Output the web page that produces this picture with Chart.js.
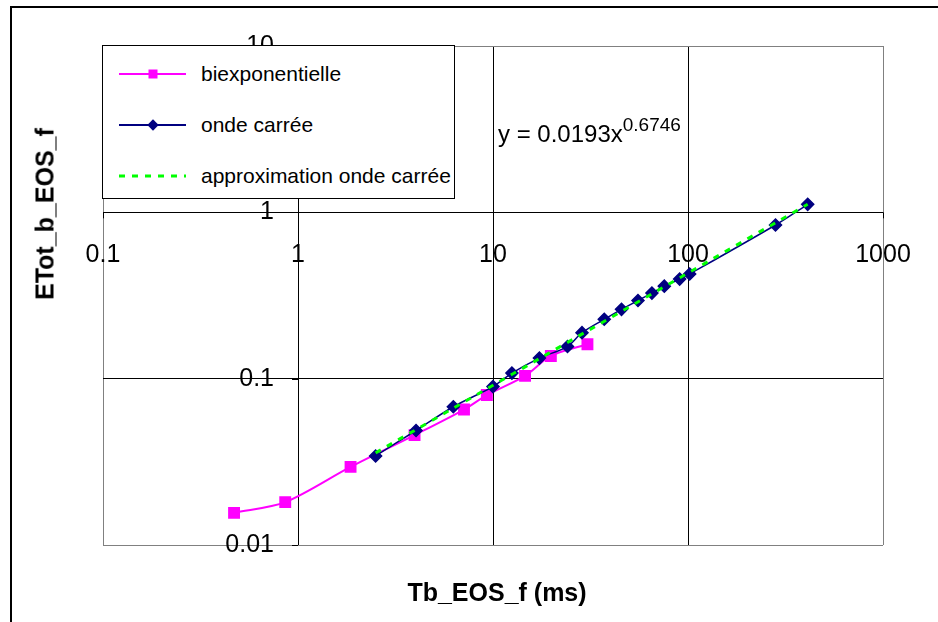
<!DOCTYPE html>
<html>
<head>
<meta charset="utf-8">
<script src="https://cdn.jsdelivr.net/npm/chart.js@4"></script>
<style>
  body { margin: 0; background: #fff; }
  #wrap { position: relative; width: 938px; height: 622px; overflow: hidden; font-family: "Liberation Sans", Arial, sans-serif; }
  #frame { position: absolute; left: 10px; top: 6px; right: -5px; bottom: -5px; border-left: 2px solid #000; border-top: 2px solid #000; }
  #chart { position: absolute; left: 0; top: 0; }
  #legend { position: absolute; left: 102px; top: 45px; width: 353px; height: 154px; background: #fff; border: 1px solid #000; padding-top: 2px; box-sizing: border-box; }
  .row { height: 51px; display: flex; align-items: center; font-size: 21px; color: #000; }
  .sym { position: relative; width: 67px; height: 51px; margin-left: 16px; margin-right: 15px; }
  .sym .ln { position: absolute; left: 0; right: 0; top: 50%; transform: translateY(-50%); }
  .sym .mk { position: absolute; left: 50%; top: 50%; transform: translate(-50%, -50%); }
  #equation { position: absolute; left: 498px; top: 114px; font-size: 24px; color: #000; white-space: nowrap; }
  #equation sup { font-size: 19px; vertical-align: 11px; }
  #yTitle { position: absolute; left: 45px; top: 214px; font-size: 25px; font-weight: bold; transform: translate(-50%, -50%) rotate(-90deg); white-space: nowrap; }
  #xTitle { position: absolute; left: 497px; top: 592px; font-size: 25px; font-weight: bold; transform: translate(-50%, -50%); white-space: nowrap; }
</style>
</head>
<body>
<div id="wrap">
  <div id="frame"></div>
  <canvas id="chart" width="938" height="622"></canvas>
  <div id="legend"></div>
  <div id="equation">y = 0.0193x<sup>0.6746</sup></div>
  <div id="yTitle">ETot_b_EOS_f</div>
  <div id="xTitle">Tb_EOS_f (ms)</div>
</div>
<script>
// Données (échelles log-log)
const biexpX = [0.47, 0.86, 1.86, 3.96, 7.1, 9.3, 14.6, 19.8, 30.5];
const biexpY = [0.0156, 0.0181, 0.0295, 0.0458, 0.0652, 0.0797, 0.104, 0.137, 0.161];

const carreeX = [2.5, 4.03, 6.26, 10.0, 12.5, 17.3, 24.1, 28.6, 37.2, 45.6, 55.4, 65.3, 75.6, 90.6, 102, 281, 411];
const carreeY = [0.0343, 0.0488, 0.0678, 0.0896, 0.108, 0.133, 0.156, 0.189, 0.2275, 0.261, 0.295, 0.327, 0.360, 0.397, 0.426, 0.839, 1.117];

// Courbe de tendance (puissance) : extrémités
const approxX = [2.5, 411];
const approxY = [0.0358, 1.119];

const xTicks = [0.1, 1, 10, 100, 1000];
const xTickLabels = ['0.1', '1', '10', '100', '1000'];
const yTicks = [0.01, 0.1, 1, 10];
const yTickLabels = ['0.01', '0.1', '1', '10'];

const seriesNames = ['biexponentielle', 'onde carrée', 'approximation onde carrée'];

function toPoints(xs, ys) {
    return xs.map((v, i) => ({ x: v, y: ys[i] }));
}

// Étiquettes des axes au croisement (x = 1, y = 1), comme dans Excel
const crossLabels = {
    id: 'crossLabels',
    afterDraw(chart) {
        const { ctx, scales: { x, y } } = chart;
        const x0 = x.getPixelForValue(1);
        const y0 = y.getPixelForValue(1);
        ctx.save();
        ctx.strokeStyle = '#000';
        ctx.lineWidth = 1;
        ctx.beginPath();
        xTicks.forEach(v => {
            const px = Math.round(x.getPixelForValue(v)) + 0.5;
            ctx.moveTo(px, y0);
            ctx.lineTo(px, y0 + 6);
        });
        yTicks.forEach(v => {
            const py = Math.round(y.getPixelForValue(v)) + 0.5;
            ctx.moveTo(x0 - 6, py);
            ctx.lineTo(x0, py);
        });
        ctx.stroke();
        ctx.fillStyle = '#000';
        ctx.font = '25px "Liberation Sans", Arial, sans-serif';
        ctx.textAlign = 'center';
        ctx.textBaseline = 'middle';
        xTicks.forEach((v, i) => {
            ctx.fillText(xTickLabels[i], x.getPixelForValue(v), y0 + 43);
        });
        ctx.textAlign = 'right';
        yTicks.forEach((v, i) => {
            ctx.fillText(yTickLabels[i], x0 - 24, y.getPixelForValue(v));
        });
        ctx.restore();
    }
};

function gridColor(edges) {
    return ctx => edges.includes(ctx.tick && ctx.tick.value) ? '#808080' : '#000';
}

const chart = new Chart(document.getElementById('chart').getContext('2d'), {
    type: 'line',
    data: {
        datasets: [
            {
                label: seriesNames[0],
                data: toPoints(biexpX, biexpY),
                borderColor: '#FF00FF',
                backgroundColor: '#FF00FF',
                borderWidth: 2,
                pointStyle: 'rect',
                pointRadius: 7,
                tension: 0.3,
                order: 3
            },
            {
                label: seriesNames[1],
                data: toPoints(carreeX, carreeY),
                borderColor: '#000080',
                backgroundColor: '#000080',
                borderWidth: 1.5,
                pointStyle: 'rectRot',
                pointRadius: 6,
                tension: 0.3,
                order: 2
            },
            {
                label: seriesNames[2],
                data: toPoints(approxX, approxY),
                borderColor: '#00FF00',
                borderWidth: 3,
                borderDash: [6, 7],
                pointRadius: 0,
                tension: 0,
                order: 1
            }
        ]
    },
    options: {
        responsive: false,
        animation: false,
        events: [],
        layout: { padding: { left: 103, top: 46, right: 55, bottom: 77 } },
        plugins: { legend: { display: false }, tooltip: { enabled: false } },
        scales: {
            x: {
                type: 'logarithmic',
                min: 0.1,
                max: 1000,
                afterBuildTicks: s => { s.ticks = xTicks.map(v => ({ value: v })); },
                afterFit: s => { s.height = 0; },
                ticks: { display: false },
                border: { display: false },
                grid: { color: gridColor([0.1, 1000]), lineWidth: 1, drawTicks: false }
            },
            y: {
                type: 'logarithmic',
                min: 0.01,
                max: 10,
                afterBuildTicks: s => { s.ticks = yTicks.map(v => ({ value: v })); },
                afterFit: s => { s.width = 0; },
                ticks: { display: false },
                border: { display: false },
                grid: { color: gridColor([0.01, 10]), lineWidth: 1, drawTicks: false }
            }
        }
    },
    plugins: [crossLabels]
});

// Légende HTML placée dans la zone du graphique
function buildLegend() {
    const box = document.getElementById('legend');
    const symbols = [
        '<div class="ln" style="height:2px;background:#FF00FF"></div><div class="mk" style="width:9px;height:9px;background:#FF00FF"></div>',
        '<div class="ln" style="height:2px;background:#000080"></div><div class="mk" style="width:8px;height:8px;background:#000080;transform:translate(-50%,-50%) rotate(45deg)"></div>',
        '<div class="ln" style="height:3px;background:repeating-linear-gradient(to right,#00FF00 0 6px,transparent 6px 13px)"></div>'
    ];
    chart.data.datasets.forEach((ds, i) => {
        const row = document.createElement('div');
        row.className = 'row';
        row.innerHTML = '<div class="sym">' + symbols[i] + '</div><span>' + ds.label + '</span>';
        box.appendChild(row);
    });
}
buildLegend();
</script>
</body>
</html>
